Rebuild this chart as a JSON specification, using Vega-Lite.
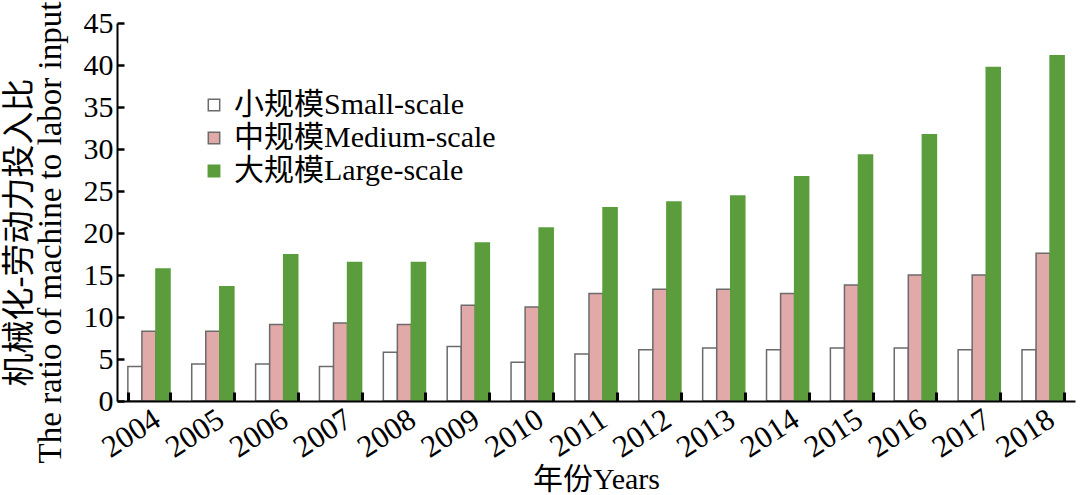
{
  "$schema": "https://vega.github.io/schema/vega-lite/v6.json",
  "autosize": "none",
  "width": 958,
  "height": 378,
  "padding": {"left": 117, "top": 23, "right": 5, "bottom": 94},
  "background": "white",
  "config": {
    "font": "Liberation Serif, Noto Sans CJK SC",
    "view": {"stroke": null},
    "axis": {"grid": false, "domainColor": "black", "domainWidth": 2, "labelColor": "black", "titleColor": "black", "labelFont": "Liberation Serif", "titleFont": "Liberation Serif, Noto Sans CJK SC", "titleFontWeight": "normal", "ticks": true, "tickColor": "black", "tickOpacity": 1}
  },
  "data": {"values": [
    {"year": "2004", "scale": "小规模Small-scale", "value": 4.1},
    {"year": "2005", "scale": "小规模Small-scale", "value": 4.4},
    {"year": "2006", "scale": "小规模Small-scale", "value": 4.4},
    {"year": "2007", "scale": "小规模Small-scale", "value": 4.1},
    {"year": "2008", "scale": "小规模Small-scale", "value": 5.8},
    {"year": "2009", "scale": "小规模Small-scale", "value": 6.5},
    {"year": "2010", "scale": "小规模Small-scale", "value": 4.6},
    {"year": "2011", "scale": "小规模Small-scale", "value": 5.6},
    {"year": "2012", "scale": "小规模Small-scale", "value": 6.1},
    {"year": "2013", "scale": "小规模Small-scale", "value": 6.3},
    {"year": "2014", "scale": "小规模Small-scale", "value": 6.1},
    {"year": "2015", "scale": "小规模Small-scale", "value": 6.3},
    {"year": "2016", "scale": "小规模Small-scale", "value": 6.3},
    {"year": "2017", "scale": "小规模Small-scale", "value": 6.1},
    {"year": "2018", "scale": "小规模Small-scale", "value": 6.1},
    {"year": "2004", "scale": "中规模Medium-scale", "value": 8.3},
    {"year": "2005", "scale": "中规模Medium-scale", "value": 8.3},
    {"year": "2006", "scale": "中规模Medium-scale", "value": 9.1},
    {"year": "2007", "scale": "中规模Medium-scale", "value": 9.3},
    {"year": "2008", "scale": "中规模Medium-scale", "value": 9.1},
    {"year": "2009", "scale": "中规模Medium-scale", "value": 11.4},
    {"year": "2010", "scale": "中规模Medium-scale", "value": 11.2},
    {"year": "2011", "scale": "中规模Medium-scale", "value": 12.8},
    {"year": "2012", "scale": "中规模Medium-scale", "value": 13.3},
    {"year": "2013", "scale": "中规模Medium-scale", "value": 13.3},
    {"year": "2014", "scale": "中规模Medium-scale", "value": 12.8},
    {"year": "2015", "scale": "中规模Medium-scale", "value": 13.8},
    {"year": "2016", "scale": "中规模Medium-scale", "value": 15.0},
    {"year": "2017", "scale": "中规模Medium-scale", "value": 15.0},
    {"year": "2018", "scale": "中规模Medium-scale", "value": 17.6},
    {"year": "2004", "scale": "大规模Large-scale", "value": 15.7},
    {"year": "2005", "scale": "大规模Large-scale", "value": 13.6},
    {"year": "2006", "scale": "大规模Large-scale", "value": 17.4},
    {"year": "2007", "scale": "大规模Large-scale", "value": 16.5},
    {"year": "2008", "scale": "大规模Large-scale", "value": 16.5},
    {"year": "2009", "scale": "大规模Large-scale", "value": 18.8},
    {"year": "2010", "scale": "大规模Large-scale", "value": 20.6},
    {"year": "2011", "scale": "大规模Large-scale", "value": 23.0},
    {"year": "2012", "scale": "大规模Large-scale", "value": 23.7},
    {"year": "2013", "scale": "大规模Large-scale", "value": 24.4},
    {"year": "2014", "scale": "大规模Large-scale", "value": 26.7},
    {"year": "2015", "scale": "大规模Large-scale", "value": 29.3},
    {"year": "2016", "scale": "大规模Large-scale", "value": 31.7},
    {"year": "2017", "scale": "大规模Large-scale", "value": 39.7},
    {"year": "2018", "scale": "大规模Large-scale", "value": 41.1}
  ]},
  "mark": {"type": "bar", "strokeWidth": 1.5},
  "encoding": {
    "x": {
      "field": "year", "type": "nominal",
      "scale": {"paddingInner": 0.34, "paddingOuter": 0.17},
      "axis": {"title": "年份Years", "titleFontSize": 30, "titlePadding": 2, "labelFontSize": 31, "labelAngle": -33, "labelAlign": "right", "labelBaseline": "top", "labelPadding": 12, "tickBand": "extent", "tickSize": -9, "tickWidth": 3, "zindex": 1}
    },
    "xOffset": {"field": "scale", "type": "nominal", "sort": ["小规模Small-scale", "中规模Medium-scale", "大规模Large-scale"], "scale": {"paddingInner": 0, "paddingOuter": 0}},
    "y": {
      "field": "value", "type": "quantitative",
      "scale": {"domain": [0, 45], "nice": false},
      "axis": {"title": ["机械化-劳动力投入比", "The ratio of machine to labor input"], "titleFontSize": 33, "titleLineHeight": 31, "titlePadding": 16, "titleY": 209, "values": [0, 5, 10, 15, 20, 25, 30, 35, 40, 45], "labelFontSize": 30, "labelPadding": 11, "tickSize": -7, "tickWidth": 2.5, "zindex": 1}
    },
    "fill": {
      "field": "scale", "type": "nominal",
      "sort": ["小规模Small-scale", "中规模Medium-scale", "大规模Large-scale"],
      "scale": {"range": ["#ffffff", "#e2a9a9", "#5b9d3c"]},
      "legend": {"title": null, "orient": "none", "legendX": 82, "legendY": 67, "symbolType": "square", "symbolSize": 130, "symbolStrokeWidth": 1.5, "labelFontSize": 30, "labelLimit": 0, "labelFont": "Liberation Serif, Noto Sans CJK SC", "labelColor": "black", "rowPadding": 3, "labelOffset": 5, "symbolOpacity": 1,
        "encode": {"symbols": {"update": {"stroke": {"scale": "stroke", "field": "value"}}}}}
    },
    "stroke": {
      "field": "scale", "type": "nominal",
      "sort": ["小规模Small-scale", "中规模Medium-scale", "大规模Large-scale"],
      "scale": {"range": ["#6b6b6b", "#6b6b6b", "#5b9d3c"]},
      "legend": null
    }
  }
}
